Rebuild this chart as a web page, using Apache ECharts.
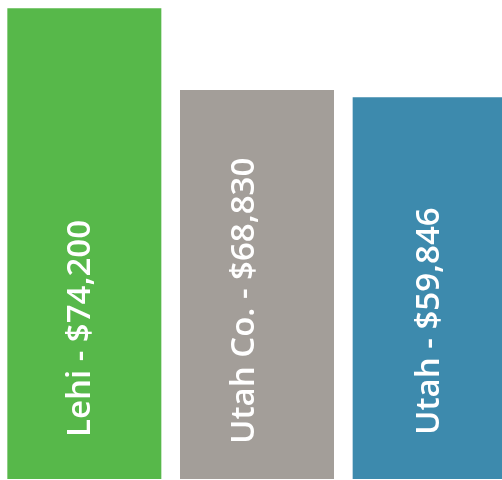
<!DOCTYPE html>
<html>
<head>
<meta charset="utf-8">
<script src="https://cdn.jsdelivr.net/npm/echarts@6/dist/echarts.min.js"></script>
<style>
  html, body { margin: 0; padding: 0; background: #fff; overflow: hidden; }
  #chart { position: absolute; left: -2px; top: 0; width: 518px; height: 480px; }
</style>
</head>
<body>
<div id="chart"></div>
<script>
// places shown on the bars
const places = ["Lehi", "Utah Co.", "Utah"];
// income figures written on the bars
const incomes = [74200, 68830, 59846];
// bar heights as drawn (share of the plot height, %)
const barHeights = [98.3, 81.2, 79.7];

const barColors = ["#57b84a", "#a39e99", "#3d8aad"];
// small nudges (in the rotated text's own frame) so each label sits where it does in the original
const labelNudge = [[2, -4], [-5, -12], [4, 0]];

const chart = echarts.init(document.getElementById("chart"));

chart.setOption({
  animation: false,
  grid: { left: 0, top: 0, right: 0, bottom: 1 },
  xAxis: {
    type: "category",
    data: places,
    show: false,
  },
  yAxis: {
    type: "value",
    min: 0,
    max: 100,
    show: false,
  },
  series: [
    {
      type: "bar",
      barWidth: 154,
      data: barHeights.map((h, i) => ({
        value: h,
        itemStyle: { color: barColors[i] },
        label: { offset: labelNudge[i] },
      })),
      label: {
        show: true,
        position: "insideBottom",
        rotate: 90,
        align: "left",
        verticalAlign: "middle",
        distance: 40,
        color: "#fff",
        fontFamily: "Open Sans",
        fontWeight: 600,
        fontSize: 33,
        formatter: (p) =>
          places[p.dataIndex] + " - $" + incomes[p.dataIndex].toLocaleString("en-US"),
      },
    },
  ],
});
</script>
</body>
</html>
